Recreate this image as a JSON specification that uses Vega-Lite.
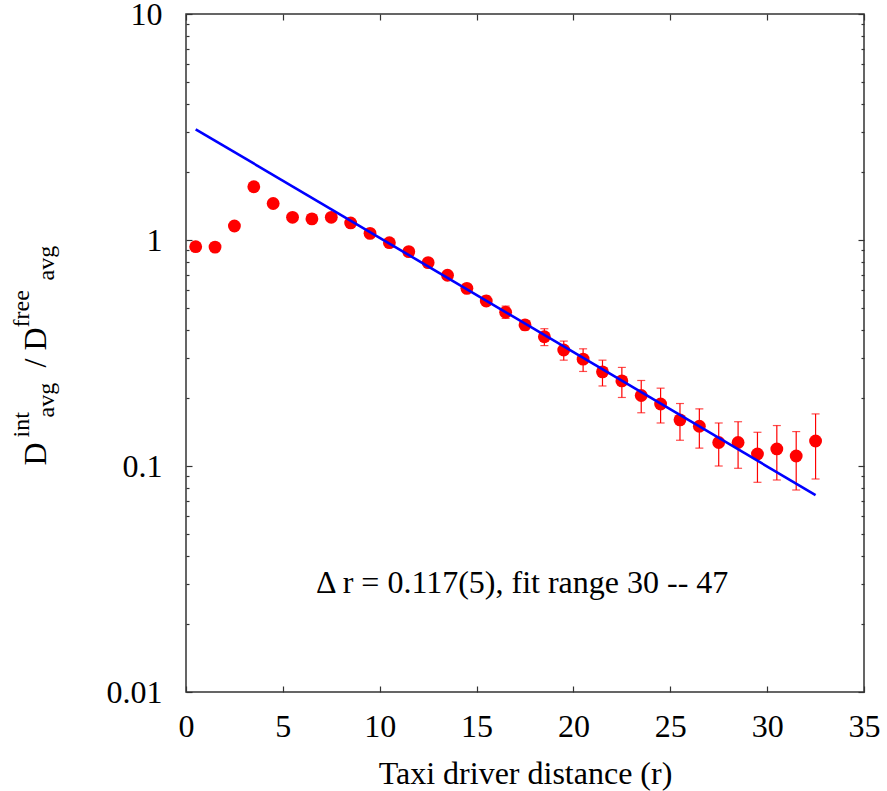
{
  "$schema": "https://vega.github.io/schema/vega-lite/v6.json",
  "width": 678,
  "height": 678,
  "autosize": "none",
  "padding": {"left": 186, "top": 14, "right": 23, "bottom": 99},
  "background": "white",
  "config": {
    "view": {"stroke": "#333333", "strokeWidth": 1.5},
    "axis": {
      "grid": false,
      "domain": false,
      "labelFont": "Liberation Serif",
      "titleFont": "Liberation Serif",
      "labelColor": "black",
      "titleColor": "black",
      "tickColor": "#333333",
      "tickWidth": 1.2,
      "titleFontWeight": "normal",
      "labelFontSize": 32,
      "titleFontSize": 32
    }
  },
  "datasets": {
    "pts": [
      {"r": 0.5, "v": 0.934, "lo": 0.934, "hi": 0.934},
      {"r": 1.5, "v": 0.93, "lo": 0.93, "hi": 0.93},
      {"r": 2.5, "v": 1.153, "lo": 1.153, "hi": 1.153},
      {"r": 3.5, "v": 1.72, "lo": 1.72, "hi": 1.72},
      {"r": 4.5, "v": 1.45, "lo": 1.45, "hi": 1.45},
      {"r": 5.5, "v": 1.26, "lo": 1.26, "hi": 1.26},
      {"r": 6.5, "v": 1.24, "lo": 1.24, "hi": 1.24},
      {"r": 7.5, "v": 1.26, "lo": 1.25, "hi": 1.27},
      {"r": 8.5, "v": 1.19, "lo": 1.18, "hi": 1.2},
      {"r": 9.5, "v": 1.07, "lo": 1.06, "hi": 1.08},
      {"r": 10.5, "v": 0.973, "lo": 0.96, "hi": 0.985},
      {"r": 11.5, "v": 0.888, "lo": 0.875, "hi": 0.9},
      {"r": 12.5, "v": 0.794, "lo": 0.78, "hi": 0.81},
      {"r": 13.5, "v": 0.698, "lo": 0.68, "hi": 0.715},
      {"r": 14.5, "v": 0.611, "lo": 0.59, "hi": 0.63},
      {"r": 15.5, "v": 0.537, "lo": 0.515, "hi": 0.565},
      {"r": 16.5, "v": 0.479, "lo": 0.45, "hi": 0.51},
      {"r": 17.5, "v": 0.421, "lo": 0.4, "hi": 0.44},
      {"r": 18.5, "v": 0.373, "lo": 0.341, "hi": 0.405},
      {"r": 19.5, "v": 0.326, "lo": 0.294, "hi": 0.357},
      {"r": 20.5, "v": 0.297, "lo": 0.262, "hi": 0.33},
      {"r": 21.5, "v": 0.261, "lo": 0.226, "hi": 0.294},
      {"r": 22.5, "v": 0.238, "lo": 0.201, "hi": 0.273},
      {"r": 23.5, "v": 0.205, "lo": 0.172, "hi": 0.239},
      {"r": 24.5, "v": 0.188, "lo": 0.155, "hi": 0.221},
      {"r": 25.5, "v": 0.16, "lo": 0.13, "hi": 0.189},
      {"r": 26.5, "v": 0.15, "lo": 0.12, "hi": 0.179},
      {"r": 27.5, "v": 0.127, "lo": 0.1, "hi": 0.155},
      {"r": 28.5, "v": 0.127, "lo": 0.0977, "hi": 0.157},
      {"r": 29.5, "v": 0.113, "lo": 0.0847, "hi": 0.141},
      {"r": 30.5, "v": 0.119, "lo": 0.0867, "hi": 0.151},
      {"r": 31.5, "v": 0.1107, "lo": 0.0783, "hi": 0.142},
      {"r": 32.5, "v": 0.129, "lo": 0.0876, "hi": 0.17}
    ],
    "fit": [
      {"r": 0.5, "v": 3.09},
      {"r": 32.5, "v": 0.0744}
    ],
    "note": [
      {"r": 17.35, "v": 0.0305, "label": "Δ r = 0.117(5), fit range 30 -- 47"}
    ]
  },
  "layer": [
    {
      "data": {"name": "pts"},
      "mark": {"type": "rule", "color": "#ff0000", "strokeWidth": 1.2},
      "encoding": {
        "x": {
          "field": "r", "type": "quantitative",
          "scale": {"domain": [0, 35], "nice": false, "zero": false},
          "axis": {
            "orient": "bottom", "values": [0, 5, 10, 15, 20, 25, 30, 35],
            "tickSize": -6, "labelPadding": 25, "labelFlush": false,
            "labelFont": "Liberation Serif", "labelFontSize": 32,
            "title": "Taxi driver distance (r)", "titleY": 91, "titleBaseline": "alphabetic",
            "titleFont": "Liberation Serif"
          }
        },
        "y": {
          "field": "lo", "type": "quantitative",
          "scale": {"type": "log", "domain": [0.01, 10], "nice": false},
          "axis": {
            "orient": "left", "values": [0.01, 0.1, 1, 10], "format": "~g",
            "tickSize": -6, "labelPadding": 30, "labelFlush": false,
            "labelFont": "Liberation Serif", "labelFontSize": 32,
            "title": "D", "titleAngle": -90, "titleX": -141, "titleY": 451,
            "titleAlign": "left", "titleBaseline": "alphabetic", "titleFontSize": 32,
            "titleFont": "Liberation Serif"
          }
        },
        "y2": {"field": "hi"}
      }
    },
    {
      "data": {"name": "pts"},
      "mark": {"type": "tick", "orient": "horizontal", "color": "#ff0000", "size": 8, "thickness": 1.2},
      "encoding": {
        "x": {
          "field": "r", "type": "quantitative",
          "scale": {"domain": [0, 35], "nice": false, "zero": false},
          "axis": {
            "orient": "top", "values": [0, 5, 10, 15, 20, 25, 30, 35],
            "tickSize": -6, "labels": false, "title": null
          }
        },
        "y": {
          "field": "lo", "type": "quantitative",
          "scale": {"type": "log", "domain": [0.01, 10], "nice": false},
          "axis": {
            "orient": "left",
            "values": [0.02, 0.03, 0.04, 0.05, 0.06, 0.07, 0.08, 0.09, 0.2, 0.3, 0.4, 0.5, 0.6, 0.7, 0.8, 0.9, 2, 3, 4, 5, 6, 7, 8, 9],
            "tickSize": -3, "labels": false,
            "title": "int", "titleAngle": -90, "titleX": -158, "titleY": 423,
            "titleAlign": "left", "titleBaseline": "alphabetic", "titleFontSize": 24,
            "titleFont": "Liberation Serif"
          }
        }
      }
    },
    {
      "data": {"name": "pts"},
      "mark": {"type": "tick", "orient": "horizontal", "color": "#ff0000", "size": 8, "thickness": 1.2},
      "encoding": {
        "x": {
          "field": "r", "type": "quantitative",
          "scale": {"domain": [0, 35], "nice": false, "zero": false},
          "axis": null
        },
        "y": {
          "field": "hi", "type": "quantitative",
          "scale": {"type": "log", "domain": [0.01, 10], "nice": false},
          "axis": {
            "orient": "right", "values": [0.01, 0.1, 1, 10],
            "tickSize": -6, "labels": false,
            "title": "avg", "titleAngle": -90, "titleX": -811, "titleY": 403,
            "titleAlign": "left", "titleBaseline": "alphabetic", "titleFontSize": 24,
            "titleFont": "Liberation Serif"
          }
        }
      }
    },
    {
      "data": {"name": "pts"},
      "mark": {"type": "circle", "color": "#ff0000", "opacity": 1, "size": 165},
      "encoding": {
        "x": {
          "field": "r", "type": "quantitative",
          "scale": {"domain": [0, 35], "nice": false, "zero": false},
          "axis": null
        },
        "y": {
          "field": "v", "type": "quantitative",
          "scale": {"type": "log", "domain": [0.01, 10], "nice": false},
          "axis": {
            "orient": "right",
            "values": [0.02, 0.03, 0.04, 0.05, 0.06, 0.07, 0.08, 0.09, 0.2, 0.3, 0.4, 0.5, 0.6, 0.7, 0.8, 0.9, 2, 3, 4, 5, 6, 7, 8, 9],
            "tickSize": -3, "labels": false,
            "title": "free", "titleAngle": -90, "titleX": -836, "titleY": 313,
            "titleAlign": "left", "titleBaseline": "alphabetic", "titleFontSize": 24,
            "titleFont": "Liberation Serif"
          }
        }
      }
    },
    {
      "data": {"name": "fit"},
      "mark": {"type": "line", "color": "#0000ff", "strokeWidth": 2.6},
      "encoding": {
        "x": {
          "field": "r", "type": "quantitative",
          "scale": {"domain": [0, 35], "nice": false, "zero": false},
          "axis": null
        },
        "y": {
          "field": "v", "type": "quantitative",
          "scale": {"type": "log", "domain": [0.01, 10], "nice": false},
          "axis": {
            "orient": "left", "ticks": false, "labels": false,
            "title": "avg", "titleAngle": -90, "titleX": -133, "titleY": 266,
            "titleAlign": "left", "titleBaseline": "alphabetic", "titleFontSize": 24,
            "titleFont": "Liberation Serif"
          }
        }
      }
    },
    {
      "data": {"name": "note"},
      "mark": {"type": "text", "font": "Liberation Serif", "fontSize": 32, "color": "black", "align": "center", "baseline": "middle"},
      "encoding": {
        "x": {
          "field": "r", "type": "quantitative",
          "scale": {"domain": [0, 35], "nice": false, "zero": false},
          "axis": null
        },
        "y": {
          "field": "v", "type": "quantitative",
          "scale": {"type": "log", "domain": [0.01, 10], "nice": false},
          "axis": {
            "orient": "left", "ticks": false, "labels": false,
            "title": "/ D", "titleAngle": -90, "titleX": -141, "titleY": 313,
            "titleAlign": "right", "titleBaseline": "alphabetic", "titleFontSize": 32,
            "titleFont": "Liberation Serif"
          }
        },
        "text": {"field": "label", "type": "nominal"}
      }
    }
  ],
  "resolve": {"axis": {"x": "independent", "y": "independent"}}
}
